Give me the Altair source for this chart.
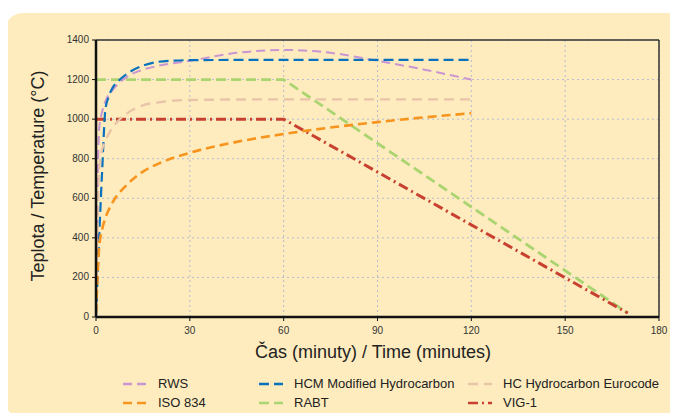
import altair as alt
import pandas as pd

# ---- data ----
series = ["RWS", "HCM Modified Hydrocarbon", "HC Hydrocarbon Eurocode", "ISO 834", "RABT", "VIG-1"]
colors = ["#C996D2", "#0A72BD", "#E8C4A8", "#F7941E", "#AAD470", "#C8402F"]
dashes = [[9, 5], [10, 5], [10, 6], [9, 5], [10, 5], [10, 4, 2, 4]]
widths = [2, 3, 2, 2, 2, 2]

rws_t = [0, 1, 2, 3, 5, 10, 15, 20, 30, 45, 60, 75, 90, 105, 120]
rws_v = [20, 950, 1040, 1090, 1140, 1215, 1250, 1270, 1295, 1335, 1350, 1335, 1295, 1250, 1200]

hcm_t = [0, 1, 2, 3, 4, 5, 7, 10, 15, 20, 25, 30, 60, 90, 120]
hcm_v = [0, 400, 750, 1050, 1110, 1150, 1190, 1230, 1270, 1290, 1296, 1298, 1300, 1300, 1300]

hc_t = [0, 1, 2, 3, 5, 7, 10, 15, 20, 30, 60, 120]
hc_v = [20, 740, 850, 890, 950, 990, 1030, 1070, 1085, 1097, 1100, 1100]

iso_t = [0, 1, 2, 3, 5, 10, 15, 20, 30, 45, 60, 90, 120]
iso_v = [20, 350, 445, 500, 570, 670, 735, 775, 830, 885, 925, 985, 1030]

rabt_t = [0, 60, 170]
rabt_v = [1200, 1200, 20]

vig_t = [0, 60, 170]
vig_v = [1000, 1000, 20]

x_ticks = [0, 30, 60, 90, 120, 150, 180]
y_ticks = [0, 200, 400, 600, 800, 1000, 1200, 1400]
x_title = "Čas (minuty) / Time (minutes)"
y_title = "Teplota / Temperature (°C)"

# ---- tables ----
rows = []
for name, ts, vs in [(series[0], rws_t, rws_v), (series[1], hcm_t, hcm_v),
                     (series[2], hc_t, hc_v), (series[3], iso_t, iso_v)]:
    for t, v in zip(ts, vs):
        rows.append({"series": name, "t": t, "v": v})
smooth_df = pd.DataFrame(rows)
rows = []
for name, ts, vs in [(series[4], rabt_t, rabt_v), (series[5], vig_t, vig_v)]:
    for t, v in zip(ts, vs):
        rows.append({"series": name, "t": t, "v": v})
straight_df = pd.DataFrame(rows)

legend_df = pd.DataFrame({"series": series,
                          "col": [i % 3 for i in range(len(series))],
                          "row": [i // 3 for i in range(len(series))]})
xt_df = pd.DataFrame({"t": x_ticks})
yt_df = pd.DataFrame({"v": y_ticks})

FONT = "Liberation Sans"
CREAM = "#FEECBE"
one = pd.DataFrame({"a": [0]})

xs = alt.Scale(domain=[0, 180], nice=False, zero=False)
ys = alt.Scale(domain=[0, 1400], nice=False)

color = alt.Color("series:N", scale=alt.Scale(domain=series, range=colors), legend=None)
dash = alt.StrokeDash("series:N", scale=alt.Scale(domain=series, range=dashes), legend=None)
sw = alt.StrokeWidth("series:N", scale=alt.Scale(domain=series, range=widths), legend=None)


def patch(x0, x1, y0, y1, fill, radius=0):
    return alt.Chart(one).mark_rect(color=fill, cornerRadius=radius).encode(
        x=alt.value(x0), x2=alt.value(x1), y=alt.value(y0), y2=alt.value(y1))


# white page edge around the cream rounded panel (outside the plot area)
frame_bits = [
    patch(-96, 590, -40, -27, "white"),
    patch(-96, -91, -40, 380, "white"),
    patch(-91, -73, -27, -9, "white"),
    patch(-91, -55, -27, 9, CREAM, 18),
    patch(-91, -73, 357, 380, "white"),
    patch(-91, -55, 330, 378, CREAM, 18),
]

grid_x = alt.Chart(xt_df).mark_rule(
    color="#B5BCD2", strokeDash=[2, 3], strokeWidth=1
).encode(x=alt.X("t:Q", scale=xs, axis=None))
grid_y = alt.Chart(yt_df).mark_rule(
    color="#B5BCD2", strokeDash=[2, 3], strokeWidth=1
).encode(y=alt.Y("v:Q", scale=ys, axis=None))

smooth = alt.Chart(smooth_df).mark_line(interpolate="monotone", clip=True).encode(
    x=alt.X("t:Q", scale=xs, axis=None),
    y=alt.Y("v:Q", scale=ys, axis=None),
    color=color, strokeDash=dash, strokeWidth=sw,
    detail="series:N",
)
straight = alt.Chart(straight_df).mark_line(clip=True).encode(
    x=alt.X("t:Q", scale=xs, axis=None),
    y=alt.Y("v:Q", scale=ys, axis=None),
    color=color, strokeDash=dash, strokeWidth=sw,
    detail="series:N",
)

# plot frame: thin top/right, heavy left/bottom axis lines
frame_top = alt.Chart(one).mark_rule(color="#333", strokeWidth=1.5).encode(
    y=alt.Y(datum=1400, scale=ys, axis=None))
frame_right = alt.Chart(one).mark_rule(color="#333", strokeWidth=1.5).encode(
    x=alt.X(datum=180, scale=xs, axis=None))
axis_bottom = alt.Chart(one).mark_rule(color="#111", strokeWidth=2.5).encode(
    y=alt.Y(datum=0, scale=ys, axis=None))
axis_left = alt.Chart(one).mark_rule(color="#111", strokeWidth=2.5).encode(
    x=alt.X(datum=0, scale=xs, axis=None))

# ticks and tick labels
x_tick_marks = alt.Chart(xt_df).mark_rule(color="#111", strokeWidth=1).encode(
    x=alt.X("t:Q", scale=xs, axis=None), y=alt.value(277), y2=alt.value(281))
x_tick_labels = alt.Chart(xt_df).mark_text(
    baseline="top", align="center", font=FONT, fontSize=10, color="#333"
).encode(x=alt.X("t:Q", scale=xs, axis=None), y=alt.value(286), text="t:Q")
y_tick_marks = alt.Chart(yt_df).mark_rule(color="#111", strokeWidth=1).encode(
    y=alt.Y("v:Q", scale=ys, axis=None), x=alt.value(-4), x2=alt.value(0))
y_tick_labels = alt.Chart(yt_df).mark_text(
    baseline="middle", align="right", font=FONT, fontSize=10, color="#333"
).encode(y=alt.Y("v:Q", scale=ys, axis=None), x=alt.value(-7), text="v:Q")

x_title_mark = alt.Chart(one).mark_text(
    text=x_title, font=FONT, fontSize=18, color="#222", align="center", baseline="middle"
).encode(x=alt.value(277), y=alt.value(313))
y_title_mark = alt.Chart(one).mark_text(
    text=y_title, font=FONT, fontSize=18, color="#222", align="center", baseline="middle",
    angle=270
).encode(x=alt.value(-57), y=alt.value(136))

# manual legend, placed in pixels below the plot
leg_base = alt.Chart(legend_df).transform_calculate(
    px="[27, 163, 372][datum.col]",
    py="344 + 19 * datum.row",
)
leg_sym = leg_base.mark_rule(x2Offset=24).encode(
    x=alt.X("px:Q", scale=None, axis=None),
    x2="px:Q",
    y=alt.Y("py:Q", scale=None, axis=None),
    color=color, strokeDash=dash,
    strokeWidth=alt.value(2.5),
)
leg_txt = leg_base.mark_text(
    align="left", baseline="middle", dx=35, font=FONT, fontSize=13, color="#222"
).encode(
    x=alt.X("px:Q", scale=None, axis=None),
    y=alt.Y("py:Q", scale=None, axis=None),
    text="series:N",
)

chart = alt.layer(
    *frame_bits, grid_x, grid_y, straight, smooth, frame_top, frame_right,
    axis_bottom, axis_left, x_tick_marks, x_tick_labels, y_tick_marks, y_tick_labels,
    x_title_mark, y_title_mark, leg_sym, leg_txt
).properties(
    width=563, height=277,
    autosize=alt.AutoSizeParams(type="none"),
    padding={"left": 88, "top": 32, "right": 11, "bottom": 96},
    background=CREAM,
).configure_view(stroke=None)

chart.save("out.html", embed_options={"renderer": "svg", "actions": False})
